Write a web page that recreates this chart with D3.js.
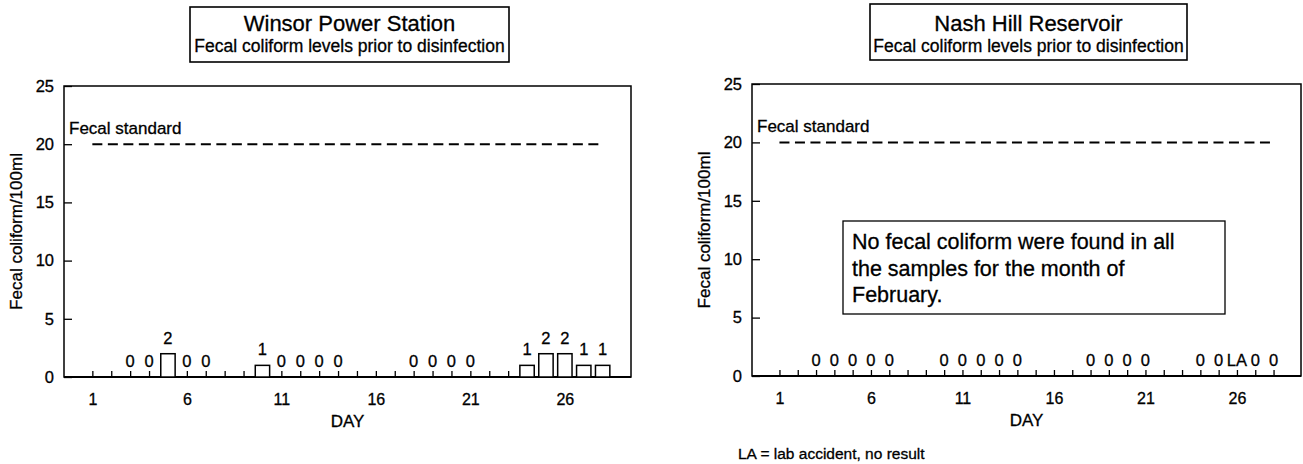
<!DOCTYPE html>
<html>
<head>
<meta charset="utf-8">
<script src="https://cdn.jsdelivr.net/npm/d3@7"></script>
<style>
  body { margin: 0; background: #fff; }
  text { font-family: "Liberation Sans", Arial, sans-serif; fill: #000; stroke: #000; stroke-width: 0.3px; }
</style>
</head>
<body>
<script>
// data
var dayTicks = [1, 6, 11, 16, 21, 26];
var minorDays = [1,2,3,4,5,6,7,8,9,10,11,12,13,14,15,16,17,18,19,20,21,22,23,24,25,26,27,28];
var yTicks = [0, 5, 10, 15, 20, 25];
var fecalStandard = 20;
var standardDays = [1, 28];

var sampleDays = [3,4,5,6,7,10,11,12,13,14,18,19,20,21,24,25,26,27,28];
var winsorValues = [0,0,2,0,0,1,0,0,0,0,0,0,0,0,1,2,2,1,1];
var nashValues   = [0,0,0,0,0,0,0,0,0,0,0,0,0,0,0,0,null,0,0]; // null = lab accident

var panels = [
    {
        title: 'Winsor Power Station',
        subtitle: 'Fecal coliform levels prior to disinfection',
        values: winsorValues,
        box: [190, 7, 319, 55],
        x: [64, 631],
        y: [377, 86]
    },
    {
        title: 'Nash Hill Reservoir',
        subtitle: 'Fecal coliform levels prior to disinfection',
        values: nashValues,
        box: [870, 4, 317, 56],
        x: [752, 1301],
        y: [376, 84],
        note: ['No fecal coliform were found in all', 'the samples for the month of', 'February.'],
        footnote: 'LA = lab accident, no result'
    }
];

var svg = d3.select('body').append('svg')
    .attr('width', 1303)
    .attr('height', 464);

function drawPanel(p){
    var g = svg.append('g');
    var x = d3.scaleLinear().domain([-0.5, 29.5]).range(p.x);
    var y = d3.scaleLinear().domain([0, 25]).range(p.y);
    var step = x(1) - x(0);

    // title box
    g.append('rect')
        .attr('x', p.box[0]).attr('y', p.box[1])
        .attr('width', p.box[2]).attr('height', p.box[3])
        .attr('fill', 'none').attr('stroke', '#000').attr('stroke-width', 1.6);
    var cx = p.box[0] + p.box[2] / 2;
    g.append('text')
        .attr('x', cx).attr('y', 31)
        .attr('text-anchor', 'middle')
        .attr('font-size', 22)
        .text(p.title);
    g.append('text')
        .attr('x', cx).attr('y', 52)
        .attr('text-anchor', 'middle')
        .attr('font-size', 17.5)
        .text(p.subtitle);

    // y axis, inward ticks
    var ya = g.append('g')
        .attr('transform', 'translate(' + p.x[0] + ',0)')
        .call(d3.axisLeft(y).tickValues(yTicks).tickSizeInner(-8).tickSizeOuter(0).tickPadding(10));
    ya.select('.domain').remove();
    ya.selectAll('line').attr('stroke-width', 1.3);
    ya.selectAll('text').attr('font-size', 16.5).attr('font-family', null);

    // minor day ticks
    var mt = g.append('g')
        .attr('transform', 'translate(0,' + p.y[0] + ')')
        .call(d3.axisBottom(x).tickValues(minorDays).tickSize(-6).tickFormat(''));
    mt.select('.domain').remove();
    mt.selectAll('line').attr('stroke-width', 1.3);

    // labelled days
    var xa = g.append('g')
        .attr('transform', 'translate(0,' + p.y[0] + ')')
        .call(d3.axisBottom(x).tickValues(dayTicks).tickSize(0).tickPadding(17));
    xa.select('.domain').remove();
    xa.selectAll('text').attr('font-size', 16).attr('font-family', null);

    // frame
    g.append('rect')
        .attr('x', p.x[0]).attr('y', p.y[1])
        .attr('width', p.x[1] - p.x[0]).attr('height', p.y[0] - p.y[1])
        .attr('fill', 'none').attr('stroke', '#000').attr('stroke-width', 1.5);
    g.append('line')
        .attr('x1', p.x[0]).attr('x2', p.x[1])
        .attr('y1', p.y[0]).attr('y2', p.y[0])
        .attr('stroke', '#000').attr('stroke-width', 2);

    // axis titles
    g.append('text')
        .attr('x', (p.x[0] + p.x[1]) / 2).attr('y', p.y[0] + 50)
        .attr('text-anchor', 'middle')
        .attr('font-size', 17)
        .text('DAY');
    var ty = (p.y[0] + p.y[1]) / 2;
    g.append('text')
        .attr('transform', 'translate(' + (p.x[0] - 42) + ',' + ty + ') rotate(-90)')
        .attr('text-anchor', 'middle')
        .attr('font-size', 17)
        .text('Fecal coliform/100ml');

    // fecal standard
    g.append('line')
        .attr('x1', x(standardDays[0])).attr('x2', x(standardDays[1]))
        .attr('y1', y(fecalStandard)).attr('y2', y(fecalStandard))
        .attr('stroke', '#000').attr('stroke-width', 2)
        .attr('stroke-dasharray', '10,5.5');
    g.append('text')
        .attr('x', p.x[0] + 5).attr('y', y(fecalStandard) - 10)
        .attr('font-size', 17)
        .text('Fecal standard');

    // bars
    var pts = sampleDays.map(function(d, i){ return {day: d, v: p.values[i]}; });
    var bw = step * 0.76;
    g.selectAll('.bar')
        .data(pts.filter(function(d){ return d.v > 0; }))
        .enter().append('rect')
        .attr('class', 'bar')
        .attr('x', function(d){ return x(d.day) - bw / 2; })
        .attr('y', function(d){ return y(d.v); })
        .attr('width', bw)
        .attr('height', function(d){ return y(0) - y(d.v); })
        .attr('fill', '#fff').attr('stroke', '#000').attr('stroke-width', 1.5);
    g.selectAll('.val')
        .data(pts)
        .enter().append('text')
        .attr('class', 'val')
        .attr('x', function(d){ return x(d.day); })
        .attr('y', function(d){ return y(d.v || 0) - 10; })
        .attr('text-anchor', 'middle')
        .attr('font-size', 16.5)
        .text(function(d){ return d.v === null ? 'LA' : d.v; });

    if(p.note){
        g.append('rect')
            .attr('x', 843).attr('y', 221)
            .attr('width', 382).attr('height', 93)
            .attr('fill', '#fff').attr('stroke', '#000').attr('stroke-width', 1.3);
        g.selectAll('.note')
            .data(p.note)
            .enter().append('text')
            .attr('class', 'note')
            .attr('x', 852)
            .attr('y', function(d, i){ return 249 + i * 26.5; })
            .attr('font-size', 21.5)
            .text(function(d){ return d; });
    }
    if(p.footnote){
        g.append('text')
            .attr('x', 738).attr('y', 459)
            .attr('font-size', 15.5)
            .text(p.footnote);
    }
}

panels.forEach(drawPanel);
</script>
</body>
</html>
